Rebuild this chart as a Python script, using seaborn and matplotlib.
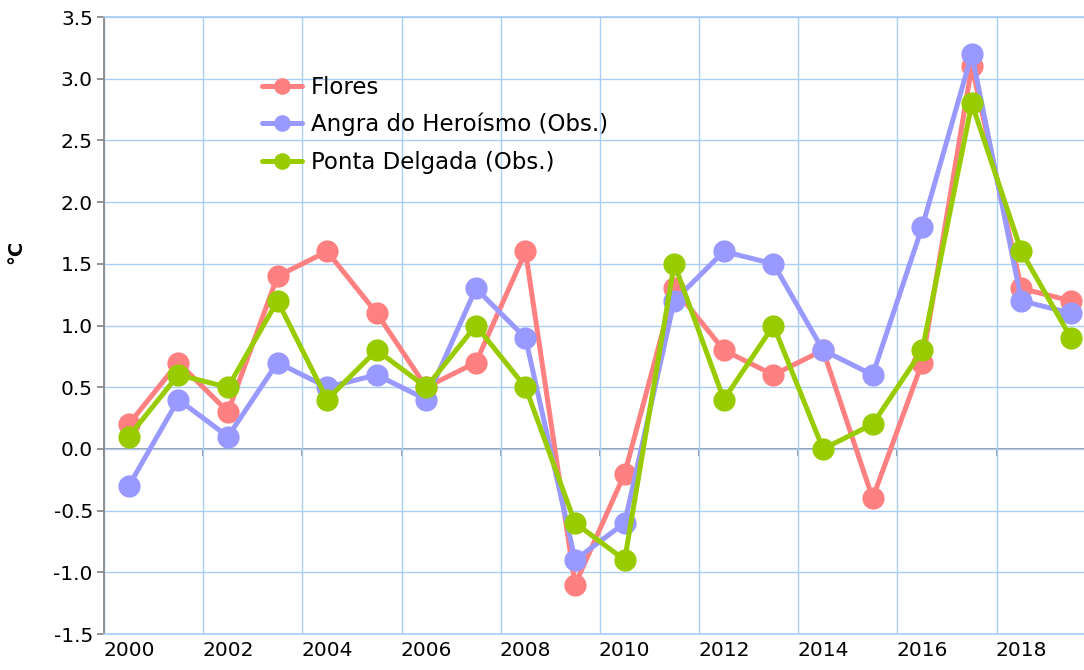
import pandas as pd
import matplotlib.pyplot as plt
import seaborn as sns

# Anomalies per station (°C)
years = list(range(2000, 2020))
flores = [0.2, 0.7, 0.3, 1.4, 1.6, 1.1, 0.5, 0.7, 1.6, -1.1,
          -0.2, 1.3, 0.8, 0.6, 0.8, -0.4, 0.7, 3.1, 1.3, 1.2]
angra = [-0.3, 0.4, 0.1, 0.7, 0.5, 0.6, 0.4, 1.3, 0.9, -0.9,
         -0.6, 1.2, 1.6, 1.5, 0.8, 0.6, 1.8, 3.2, 1.2, 1.1]
ponta = [0.1, 0.6, 0.5, 1.2, 0.4, 0.8, 0.5, 1.0, 0.5, -0.6,
         -0.9, 1.5, 0.4, 1.0, 0.0, 0.2, 0.8, 2.8, 1.6, 0.9]
stations = ['Flores', 'Angra do Heroísmo (Obs.)', 'Ponta Delgada (Obs.)']
colors = ['#FF8080', '#9999FF', '#99CC00']

rows = []
for name, vals in zip(stations, [flores, angra, ponta]):
    for y, v in zip(years, vals):
        # category axis: each year sits in the middle of its band
        rows.append({'x': y + 0.5, 'v': v, 'station': name})
df = pd.DataFrame(rows)

sns.set_theme(style='white')
plt.rcParams['font.family'] = ['DejaVu Sans']
plt.rcParams['axes.unicode_minus'] = False
plt.rcParams['text.color'] = 'black'

grid_c = '#A9CDF5'
axis_c = '#868686'

fig = plt.figure(figsize=(10.84, 6.70), dpi=100)
ax = fig.add_axes([0.0959, 0.0537, 0.904, 0.9209])

ax.set_xlim(2000, 2019.76)
ax.set_ylim(-1.5, 3.5)

ax.set_yticks([i * 0.5 for i in range(-3, 8)])
ax.set_xticks(range(2000, 2020, 2), minor=True)
ax.set_xticks([y + 0.5 for y in range(2000, 2020, 2)])
ax.set_xticklabels([str(y) for y in range(2000, 2020, 2)])
ax.grid(True, which='major', axis='y', color=grid_c, lw=1)
ax.grid(True, which='minor', axis='x', color=grid_c, lw=1)
ax.set_axisbelow(True)

ax.tick_params(axis='x', which='both', length=0, labelsize=14.5, pad=5,
               labelcolor='black')
ax.tick_params(axis='y', length=5, color=axis_c, labelsize=14.5, pad=3,
               direction='out', left=True, labelcolor='black')

for s in ['top', 'bottom']:
    ax.spines[s].set_color(grid_c)
ax.spines['right'].set_visible(False)
ax.spines['left'].set_color(axis_c)

# horizontal axis crossing at zero, with its tick marks
sec = ax.secondary_xaxis(0.3)
sec.set_xticks(range(2000, 2020, 2))
sec.set_xticklabels([])
sec.tick_params(length=5, width=1.2, color=axis_c, direction='out')
sec.spines['bottom'].set_color(axis_c)
sec.spines['bottom'].set_linewidth(1.2)

sns.lineplot(data=df, x='x', y='v', hue='station', hue_order=stations,
             palette=colors, marker='o', markersize=16, markeredgewidth=0,
             linewidth=3.6, ax=ax, zorder=3)

ax.set_xlabel('')
ax.set_ylabel('°C', fontsize=14, fontweight='bold', color='black')
ax.yaxis.set_label_coords(-0.08, 0.62)

leg = ax.legend(loc='upper left', bbox_to_anchor=(0.161, 0.905),
                frameon=False, fontsize=16.5, borderpad=0, borderaxespad=0,
                handlelength=1.75, labelspacing=0.62, handletextpad=0.4)
for t in leg.get_texts():
    t.set_color('black')
for h in leg.legend_handles:
    h.set_markersize(12)

plt.savefig('out.png', dpi=100)
